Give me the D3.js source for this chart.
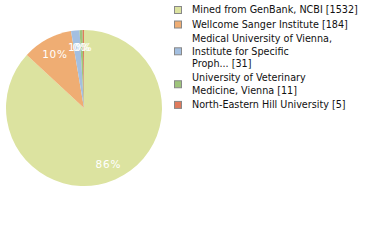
<!DOCTYPE html>
<html><head><meta charset="utf-8">
<script src="https://cdn.jsdelivr.net/npm/d3@7"></script>
<style>body{margin:0;background:#fff;}svg{display:block;}</style>
</head><body>
<svg id="c" width="380" height="240"></svg>
<script>
const categories = ["Mined from GenBank, NCBI [1532]","Wellcome Sanger Institute [184]","Medical University of Vienna, Institute for Specific Proph... [31]","University of Veterinary Medicine, Vienna [11]","North-Eastern Hill University [5]"];
const legendLines = [["Mined from GenBank, NCBI [1532]"],["Wellcome Sanger Institute [184]"],["Medical University of Vienna,","Institute for Specific","Proph... [31]"],["University of Veterinary","Medicine, Vienna [11]"],["North-Eastern Hill University [5]"]];
const values = [1532,184,31,11,5];
const colors = ["#dce3a0","#efad73","#a3bfe0","#9ec47b","#e07a5c"];

const svg = d3.select("#c");
const cx = 84, cy = 108, R = 78;
const total = d3.sum(values);

const probe = svg.append("text").attr("font-family","DejaVu Sans").attr("font-size",10).text(legendLines[0][0]);
const w10 = probe.node().getComputedTextLength();
const legendSize = Math.min(11, 10*166/w10);
probe.remove();

const pie = d3.pie().sort(null).value(d=>d)(values);
const arc = d3.arc().innerRadius(0).outerRadius(R);
const lab = d3.arc().innerRadius(61).outerRadius(61);
const g = svg.append("g").attr("transform",`translate(${cx},${cy})`);
g.selectAll("path").data(pie).join("path").attr("d",arc).attr("fill",(d,i)=>colors[i]);
g.selectAll("text").data(pie).join("text")
  .attr("transform",d=>`translate(${lab.centroid(d)})`)
  .attr("text-anchor","middle").attr("dy","0.35em")
  .attr("font-family","DejaVu Sans").attr("font-size",10.5).attr("fill","#fff")
  .attr("letter-spacing",0.8)
  .text(d=>Math.floor(d.value/total*100)+"%");

const lg = svg.append("g");
const lh = 12.3, pad = 2.2;
let y = 10;
legendLines.forEach((lines,i)=>{
  const n = lines.length;
  const mid = y + (n-1)*lh/2;
  lg.append("rect").attr("x",174.5).attr("y",mid-3.5).attr("width",7).attr("height",7)
    .attr("fill",colors[i]).attr("stroke","#888").attr("stroke-width",1);
  lines.forEach((t,j)=>{
    lg.append("text").attr("x",192).attr("y",y+j*lh).attr("dy","0.35em")
      .attr("font-family","DejaVu Sans").attr("font-size",legendSize).attr("fill","#111").text(t);
  });
  y += n*lh + pad;
});
</script>
</body></html>
